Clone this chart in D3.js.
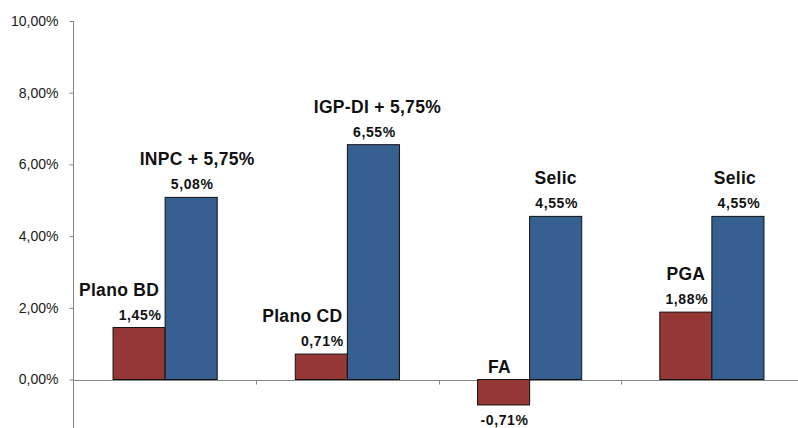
<!DOCTYPE html>
<html><head><meta charset="utf-8">
<script src="https://cdn.jsdelivr.net/npm/d3@7/dist/d3.min.js"></script>
<style>
html,body{margin:0;padding:0;background:#fff;}
svg{display:block;}
</style></head>
<body>
<svg id="chart" width="798" height="428"></svg>
<script>
// ---- data ----
const categories = ["Plano BD", "Plano CD", "FA", "PGA"];
const planNames = ["Plano BD", "Plano CD", "FA", "PGA"];
const planValues = [1.45, 0.71, -0.71, 1.88];
const benchmarkNames = ["INPC + 5,75%", "IGP-DI + 5,75%", "Selic", "Selic"];
const benchmarkValues = [5.08, 6.55, 4.55, 4.55];
const tickValues = [0, 2, 4, 6, 8, 10];

// ---- layout (not data) ----
const planNameDx = [-20, -19, -4, 0];
const benchNameDx = [6, 4, 0, -3];

const svg = d3.select("#chart");
const fmt = v => d3.format(".2f")(v).replace("\u2212", "-").replace(".", ",") + "%";

const y = d3.scaleLinear().domain([-1.35, 10]).range([427.9, 21]);
const x = d3.scaleBand().domain(categories).range([74, 803]).paddingInner(0).paddingOuter(0);
const xs = d3.scaleBand().domain(["plan", "bench"]).range([0, x.bandwidth()]).paddingInner(0).paddingOuter(0.75);

const axisColor = "#868686";

// y axis
const yAxis = d3.axisLeft(y).tickValues(tickValues).tickSize(4).tickFormat(d => fmt(d));
const gy = svg.append("g").attr("transform", "translate(73.5,0)").call(yAxis);
gy.select(".domain").remove();
gy.selectAll(".tick line").attr("stroke", axisColor);
gy.selectAll(".tick text").attr("x", -15).attr("fill", "#1a1a1a")
  .style("font-family", "'Liberation Sans', Arial, sans-serif").style("font-size", "14px");
svg.append("line").attr("x1", 73.5).attr("x2", 73.5).attr("y1", y(10)).attr("y2", 428)
  .attr("stroke", axisColor);

// x baseline + category ticks
const y0 = Math.round(y(0)) + 0.5;
svg.append("line").attr("x1", 73.5).attr("x2", 798).attr("y1", y0).attr("y2", y0).attr("stroke", axisColor);
const sepX = categories.map(c => x(c) + x.bandwidth());
svg.selectAll(".sep").data(sepX).enter().append("line")
  .attr("x1", d => Math.round(d) + 0.5).attr("x2", d => Math.round(d) + 0.5)
  .attr("y1", y0).attr("y2", y0 + 4).attr("stroke", axisColor);

// bars
function drawBars(values, key, color) {
  svg.selectAll(".bar-" + key).data(values).enter().append("rect")
    .attr("x", (d, i) => x(categories[i]) + xs(key))
    .attr("width", xs.bandwidth())
    .attr("y", d => y(Math.max(0, d)))
    .attr("height", d => Math.abs(y(d) - y(0)))
    .attr("fill", color).attr("stroke", "#111").attr("stroke-width", 1);
}
drawBars(planValues, "plan", "#953735");
drawBars(benchmarkValues, "bench", "#376092");

const font = "'Liberation Sans', Arial, sans-serif";
function drawLabels(values, names, key, dxs) {
  const cx = i => x(categories[i]) + xs(key) + xs.bandwidth() / 2;
  svg.selectAll(".val-" + key).data(values).enter().append("text")
    .attr("x", (d, i) => cx(i) + 1)
    .attr("y", d => d >= 0 ? y(d) - 8 : y(d) + 20)
    .attr("text-anchor", "middle")
    .style("font-family", font).style("font-weight", "bold").style("font-size", "14px")
    .style("letter-spacing", "0.6px")
    .attr("fill", "#111").text(d => fmt(d));
  svg.selectAll(".name-" + key).data(values).enter().append("text")
    .attr("x", (d, i) => cx(i) + dxs[i])
    .attr("y", d => d >= 0 ? y(d) - 32 : y(0) - 7)
    .attr("text-anchor", "middle")
    .style("font-family", font).style("font-weight", "bold").style("font-size", "17.5px")
    .style("letter-spacing", "0.3px")
    .attr("fill", "#111").text((d, i) => names[i]);
}
drawLabels(planValues, planNames, "plan", planNameDx);
drawLabels(benchmarkValues, benchmarkNames, "bench", benchNameDx);
</script>
</body></html>
